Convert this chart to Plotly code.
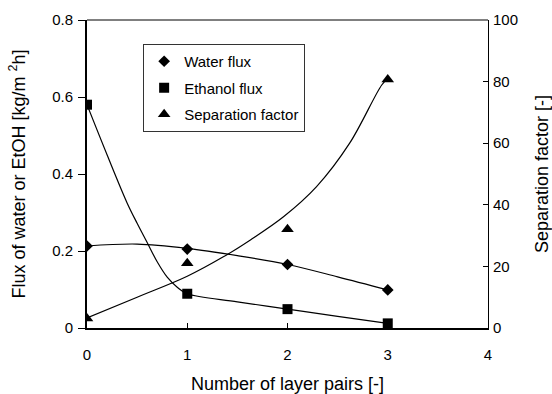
import plotly.graph_objects as go

# Data
layers = [0, 1, 2, 3]
water_flux = [0.213, 0.205, 0.165, 0.099]
ethanol_flux = [0.58, 0.089, 0.049, 0.012]
separation_factor = [3.1, 21.0, 32.1, 80.7]

# Trend (fitted) curves
water_trend_x = [0, 0.5, 1, 1.5, 2, 2.5, 3]
water_trend_y = [0.213, 0.218, 0.207, 0.188, 0.165, 0.133, 0.099]
ethanol_trend_x = [0, 0.2, 0.4, 0.5, 0.6, 0.7, 0.8, 0.9, 1, 1.5, 2, 2.5, 3]
ethanol_trend_y = [0.58, 0.45, 0.325, 0.272, 0.222, 0.172, 0.132, 0.106, 0.089, 0.068, 0.049, 0.030, 0.012]
sep_trend_x = [0, 0.5, 1, 1.36, 1.63, 1.96, 2.29, 2.62, 2.94, 3]
sep_trend_y = [3.3, 10.0, 16.8, 23.1, 28.6, 36.1, 45.9, 60.0, 78.9, 81.0]

FONT = "Arial, Liberation Sans, sans-serif"

fig = go.Figure()

# trend lines
fig.add_trace(go.Scatter(x=water_trend_x, y=water_trend_y, mode="lines",
                         line=dict(color="black", width=1.2, shape="spline"),
                         showlegend=False, hoverinfo="skip"))
fig.add_trace(go.Scatter(x=ethanol_trend_x, y=ethanol_trend_y, mode="lines",
                         line=dict(color="black", width=1.2, shape="spline"),
                         showlegend=False, hoverinfo="skip"))
fig.add_trace(go.Scatter(x=sep_trend_x, y=sep_trend_y, mode="lines", yaxis="y2",
                         line=dict(color="black", width=1.2, shape="spline"),
                         showlegend=False, hoverinfo="skip"))

# data markers
fig.add_trace(go.Scatter(x=layers, y=water_flux, mode="markers", name="Water flux",
                         legendgroup="a",
                         marker=dict(symbol="diamond", size=9, color="black")))
fig.add_trace(go.Scatter(x=layers, y=ethanol_flux, mode="markers", name="Ethanol flux",
                         legendgroup="b",
                         marker=dict(symbol="square", size=10, color="black")))
fig.add_trace(go.Scatter(x=layers, y=separation_factor, mode="markers", yaxis="y2",
                         name="Separation factor", legendgroup="c",
                         marker=dict(symbol="triangle-up", size=11, color="black")))

fig.update_layout(
    width=552, height=394,
    margin=dict(l=87, r=64, t=20, b=66, autoexpand=False),
    paper_bgcolor="white", plot_bgcolor="white",
    font=dict(family=FONT, size=15, color="black"),
    showlegend=True,
    legend=dict(x=0.14, y=0.922, xanchor="left", yanchor="top",
                bordercolor="#333333", borderwidth=1, bgcolor="white",
                font=dict(size=15), tracegroupgap=4, traceorder="grouped"),
    xaxis=dict(range=[0, 4], dtick=1, tick0=0, showgrid=False, zeroline=False,
               automargin=False,
               showline=True, linecolor="black", linewidth=2,
               ticks="inside", ticklen=5, tickcolor="black",
               ticklabelstandoff=12,
               title=dict(text="Number of layer pairs [-]", standoff=27)),
    yaxis=dict(range=[0, 0.8], dtick=0.2, showgrid=False, zeroline=False,
               automargin=False,
               showline=True, linecolor="black", linewidth=2,
               ticks="outside", ticklen=7, tickcolor="black",
               ticklabelstandoff=2,
               title=dict(text="Flux of water or EtOH [kg/m <sup>2</sup>h]", standoff=22)),
    yaxis2=dict(range=[0, 100], dtick=20, overlaying="y", side="right",
                showgrid=False, zeroline=False, automargin=False,
                showline=True, linecolor="black", linewidth=1,
                ticks="inside", ticklen=5, tickcolor="black",
                ticklabelstandoff=1,
                title=dict(text="Separation factor [-]", standoff=34)),
    shapes=[dict(type="line", xref="paper", yref="paper", x0=0, x1=1, y0=1, y1=1,
                 line=dict(color="black", width=1))],
)

fig.write_html("out.html")
